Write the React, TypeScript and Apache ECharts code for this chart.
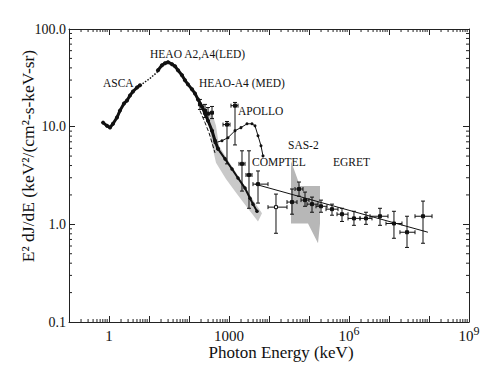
import React, { useEffect, useRef } from 'react';
import * as echarts from 'echarts';

// ---------- data (energy in keV, value in keV^2/(cm^2 s keV sr)) ----------
const ascaE = [0.71, 0.89, 1.06, 1.26, 1.58, 1.88, 2.37, 2.82, 3.35, 3.98, 5.01, 5.96];
const ascaV = [11.0, 10.2, 9.8, 10.7, 12.4, 14.6, 17.3, 18.5, 20.9, 22.9, 25.2, 26.5];

const gapE = [5.96, 7.08, 10.6, 15.8, 16.8];
const gapV = [26.5, 27.7, 31.2, 36.0, 37.8];

const heaoE = [16.8, 21.1, 25.1, 29.9, 37.6, 44.7, 53.1, 66.8, 79.4, 94.4, 119, 141, 168, 211, 251, 299, 376, 447, 531];
const heaoV = [37.8, 42.6, 44.6, 45.7, 43.6, 41.6, 37.8, 33.6, 29.8, 27.1, 24.1, 21.9, 19.0, 16.1, 13.6, 11.5, 9.09, 7.18, 5.93];

const steepE = [531, 794, 1189, 1679, 2512, 3350, 3981, 5012];
const steepV = [5.93, 4.68, 3.69, 2.98, 2.35, 1.85, 1.61, 1.36];

const dashE = [188, 251, 316, 376, 447];
const dashV = [14.6, 11.0, 8.67, 6.84, 5.39];

const medE = [188, 251, 299, 376];
const medV = [16.9, 14.6, 13.6, 13.9];
const medHi = [19.0, 16.9, 15.7, 16.1];
const medLo = [15.0, 12.4, 11.5, 12.1];

const apolloE = [447, 668, 944, 1413, 1995, 2818, 3758, 4467, 5309, 6310, 7079];
const apolloV = [6.84, 7.18, 7.71, 9.1, 9.78, 10.7, 10.7, 10.2, 8.08, 6.37, 5.02];

const apBarE = [891, 1413];
const apBarV = [10.5, 16.4];
const apBarHi = [11.3, 17.7];
const apBarLo = [4.16, 6.5];
const apBarXl = [708, 1122];
const apBarXr = [1059, 1679];

const compE = [2113, 3162, 5309, 14962];
const compV = [4.16, 3.2, 2.58, 1.5];
const compHi = [5.66, 5.66, 3.52, 2.04];
const compLo = [2.19, 1.46, 1.65, 0.81];
const compXl = [1778, 2661, 3981, 9441];
const compXr = [2512, 3758, 9441, 28184];
const compOpen = [0, 0, 0, 1];

const egretE = [37584, 56234, 79433, 118850, 199526, 375837, 668344, 1.33e6, 2.66e6, 5.96e6, 1.33e7, 2.82e7, 7.08e7];
const egretV = [1.69, 2.3, 1.77, 1.61, 1.53, 1.43, 1.27, 1.15, 1.15, 1.21, 1.02, 0.83, 1.21];
const egretHi = [2.3, 2.71, 2.14, 1.9, 1.77, 1.61, 1.46, 1.36, 1.33, 1.46, 1.36, 1.21, 1.73];
const egretLo = [1.27, 1.94, 1.53, 1.33, 1.33, 1.24, 1.07, 0.977, 1.0, 0.977, 0.72, 0.58, 0.64];
const egretXl = [28184, 44668, 63096, 89125, 149624, 266073, 501187, 944061, 1.884e6, 3.35e6, 8.41e6, 1.88e7, 4.47e7];
const egretXr = [50119, 70795, 1e5, 167880, 281838, 530884, 944061, 1.884e6, 3.758e6, 9.44e6, 2.11e7, 4.47e7, 1.19e8];

const powerE = [4470, 9.4e7];
const powerV = [2.58, 0.83];

// gray band along the steep HEAO/COMPTEL decline (upper edge then lower edge back)
const bandE = [376, 473, 562, 891, 1413, 2512, 4467, 6683, 5309, 2818, 1585, 841, 473, 355, 316];
const bandV = [13.9, 10.2, 6.37, 4.68, 3.52, 2.41, 1.65, 1.3, 1.07, 1.5, 2.04, 2.91, 4.26, 7.18, 13.0];

// SAS-2 shaded region
const sasE = [35481, 59566, 188365, 188365, 167880, 94406, 35481];
const sasV = [4.46, 2.47, 2.47, 1.02, 0.64, 1.02, 1.02];

const xTickExps = [0, 3, 6, 9];
const xTickLabels = ['1', '1000', '10^6', '10^9'];
const yTickExps = [-1, 0, 1, 2];
const yTickLabels = ['0.1', '1.0', '10.0', '100.0'];

const annotations = [
  { text: 'HEAO A2,A4(LED)', x: 150, y: 54 },
  { text: 'ASCA', x: 103, y: 83 },
  { text: 'HEAO-A4 (MED)', x: 199, y: 83 },
  { text: 'APOLLO', x: 238, y: 111 },
  { text: 'SAS-2', x: 288, y: 145 },
  { text: 'COMPTEL', x: 252, y: 162 },
  { text: 'EGRET', x: 333, y: 162 },
];

const FONT = "'Liberation Serif', 'Times New Roman', 'DejaVu Serif', serif";
const INK = '#111';
const lg = (v: number) => Math.log10(v);
const pairs = (e: number[], v: number[]) => e.map((x, i) => [lg(x), lg(v[i])]);

function errRows(E: number[], V: number[], Hi: number[], Lo: number[], Xl?: number[], Xr?: number[], open?: number[]) {
  return E.map((e, i) => [
    lg(e), lg(V[i]), lg(Lo[i]), lg(Hi[i]),
    lg(Xl ? Xl[i] : e), lg(Xr ? Xr[i] : e), open ? open[i] : 0,
  ]);
}

function errRender(params: any, api: any) {
  const x = api.value(0);
  const y = api.value(1);
  const c = api.coord([x, y]);
  const lo = api.coord([x, api.value(2)]);
  const hi = api.coord([x, api.value(3)]);
  const xl = api.coord([api.value(4), y]);
  const xr = api.coord([api.value(5), y]);
  const open = api.value(6) === 1;
  const st = { stroke: INK, lineWidth: 1, fill: null };
  const ch: any[] = [
    { type: 'line', shape: { x1: c[0], y1: hi[1], x2: c[0], y2: lo[1] }, style: st },
    { type: 'line', shape: { x1: c[0] - 2, y1: hi[1], x2: c[0] + 2, y2: hi[1] }, style: st },
    { type: 'line', shape: { x1: c[0] - 2, y1: lo[1], x2: c[0] + 2, y2: lo[1] }, style: st },
  ];
  if (xr[0] - xl[0] > 1) {
    ch.push({ type: 'line', shape: { x1: xl[0], y1: c[1], x2: xr[0], y2: c[1] }, style: st });
    ch.push({ type: 'line', shape: { x1: xl[0], y1: c[1] - 2, x2: xl[0], y2: c[1] + 2 }, style: st });
    ch.push({ type: 'line', shape: { x1: xr[0], y1: c[1] - 2, x2: xr[0], y2: c[1] + 2 }, style: st });
  }
  ch.push({
    type: 'rect',
    shape: { x: c[0] - 1.5, y: c[1] - 1.5, width: 3, height: 3 },
    style: { fill: open ? '#fff' : INK, stroke: INK, lineWidth: 1 },
  });
  return { type: 'group', children: ch };
}

function polygonSeries(E: number[], V: number[], color: string) {
  return {
    type: 'custom',
    data: [[lg(E[0]), lg(V[0])]],
    encode: { x: 0, y: 1 },
    silent: true,
    z: 1,
    renderItem: (_p: any, api: any) => ({
      type: 'polygon',
      shape: { points: E.map((e, i) => api.coord([lg(e), lg(V[i])])) },
      style: { fill: color, stroke: null },
    }),
  };
}

function minorTickRender(_p: any, api: any) {
  const yb = api.coord([0, -1])[1];
  const yt = api.coord([0, 2])[1];
  const xlft = api.coord([-1, 0])[0];
  const xrgt = api.coord([9, 0])[0];
  const st = { stroke: '#222', lineWidth: 1 };
  const ch: any[] = [];
  const L = 3;
  for (let d = -1; d < 9; d++) {
    for (let k = 2; k <= 9; k++) {
      const px = api.coord([d + Math.log10(k), 0])[0];
      ch.push({ type: 'line', shape: { x1: px, y1: yb, x2: px, y2: yb - L }, style: st });
      ch.push({ type: 'line', shape: { x1: px, y1: yt, x2: px, y2: yt + L }, style: st });
    }
  }
  for (let d = -1; d < 2; d++) {
    for (let k = 2; k <= 9; k++) {
      const py = api.coord([0, d + Math.log10(k)])[1];
      ch.push({ type: 'line', shape: { x1: xlft, y1: py, x2: xlft + L, y2: py }, style: st });
      ch.push({ type: 'line', shape: { x1: xrgt, y1: py, x2: xrgt - L, y2: py }, style: st });
    }
  }
  return { type: 'group', children: ch };
}

const xLabel = (v: number) => {
  const i = xTickExps.indexOf(Math.round(v));
  if (i < 0) return '';
  const t = xTickLabels[i];
  if (t.indexOf('^') >= 0) {
    const [b, s] = t.split('^');
    return `{b|${b}}{s|${s}}`;
  }
  return `{b|${t}}`;
};
const yLabel = (v: number) => {
  const i = yTickExps.indexOf(Math.round(v));
  return i < 0 ? '' : yTickLabels[i];
};

const axisLine = { onZero: false, lineStyle: { color: '#222', width: 1 } };
const axisTick = { inside: true, length: 6, lineStyle: { color: '#222', width: 1 } };

export default function App() {
  const ref = useRef<HTMLDivElement>(null);
  useEffect(() => {
    if (!ref.current) return;
    const chart = echarts.init(ref.current, null, { renderer: 'svg' });
    const lineS = (data: number[][], width: number, extra: any = {}) => ({
      type: 'line',
      data,
      symbol: 'none',
      lineStyle: { color: INK, width },
      itemStyle: { color: INK },
      z: 3,
      ...extra,
    });
    const errS = (data: any[]) => ({
      type: 'custom',
      data,
      encode: { x: 0, y: 1 },
      renderItem: errRender,
      z: 4,
      silent: true,
    });
    chart.setOption({
      animation: false,
      backgroundColor: '#fff',
      textStyle: { fontFamily: FONT },
      grid: { left: 69, right: 31, top: 29, bottom: 48, containLabel: false },
      xAxis: [
        {
          type: 'value', min: -1, max: 9, interval: 1, position: 'bottom',
          axisLine, axisTick, splitLine: { show: false },
          axisLabel: {
            margin: 3, color: INK, fontFamily: FONT, fontSize: 15, lineHeight: 18,
            formatter: xLabel,
            rich: {
              b: { fontSize: 15, lineHeight: 18, verticalAlign: 'bottom', fontFamily: FONT, color: INK },
              s: { fontSize: 12, lineHeight: 13, verticalAlign: 'top', fontFamily: FONT, color: INK },
            },
          },
        },
        {
          type: 'value', min: -1, max: 9, interval: 1, position: 'top',
          axisLine, axisTick, splitLine: { show: false }, axisLabel: { show: false },
        },
      ],
      yAxis: [
        {
          type: 'value', min: -1, max: 2, interval: 1, position: 'left',
          axisLine, axisTick, splitLine: { show: false },
          axisLabel: { margin: 3, color: INK, fontFamily: FONT, fontSize: 14, formatter: yLabel },
        },
        {
          type: 'value', min: -1, max: 2, interval: 1, position: 'right',
          axisLine, axisTick, splitLine: { show: false }, axisLabel: { show: false },
        },
      ],
      graphic: [
        ...annotations.map((a) => ({
          type: 'text', x: a.x, y: a.y, silent: true,
          style: { text: a.text, fontSize: 11.5, fontFamily: FONT, fill: INK, align: 'left', verticalAlign: 'middle' },
        })),
        {
          type: 'text', x: 281, y: 352, silent: true,
          style: { text: 'Photon Energy (keV)', fontSize: 17, fontFamily: FONT, fill: INK, align: 'center', verticalAlign: 'middle' },
        },
        {
          type: 'text', x: 28, y: 156, rotation: Math.PI / 2, silent: true,
          style: { text: 'E² dJ/dE (keV²/(cm²-s-keV-sr)', fontSize: 17.5, fontFamily: FONT, fill: INK, align: 'center', verticalAlign: 'middle' },
        },
      ],
      series: [
        polygonSeries(bandE, bandV, '#c9c9c9'),
        polygonSeries(sasE, sasV, '#b7b7b7'),
        {
          type: 'custom', data: [[0, 0]], encode: { x: 0, y: 1 }, renderItem: minorTickRender, silent: true, z: 5,
        },
        lineS(pairs(ascaE, ascaV), 3, { symbol: 'circle', symbolSize: 4 }),
        lineS(pairs(gapE, gapV), 1.5, { lineStyle: { color: INK, width: 1.5, type: 'dotted' } }),
        lineS(pairs(heaoE, heaoV), 3, { symbol: 'circle', symbolSize: 4 }),
        lineS(pairs(steepE, steepV), 2, { symbol: 'circle', symbolSize: 3.5 }),
        lineS(pairs(dashE, dashV), 1, { lineStyle: { color: INK, width: 1, type: 'dashed' } }),
        lineS(pairs(apolloE, apolloV), 1, { symbol: 'circle', symbolSize: 3 }),
        lineS(pairs(powerE, powerV), 1),
        errS(errRows(medE, medV, medHi, medLo)),
        errS(errRows(apBarE, apBarV, apBarHi, apBarLo, apBarXl, apBarXr)),
        errS(errRows(compE, compV, compHi, compLo, compXl, compXr, compOpen)),
        errS(errRows(egretE, egretV, egretHi, egretLo, egretXl, egretXr)),
      ],
    });
    return () => chart.dispose();
  }, []);
  return (
    <div
      ref={ref}
      style={{ position: 'absolute', left: 0, top: 0, width: 500, height: 370, background: '#fff' }}
    />
  );
}
